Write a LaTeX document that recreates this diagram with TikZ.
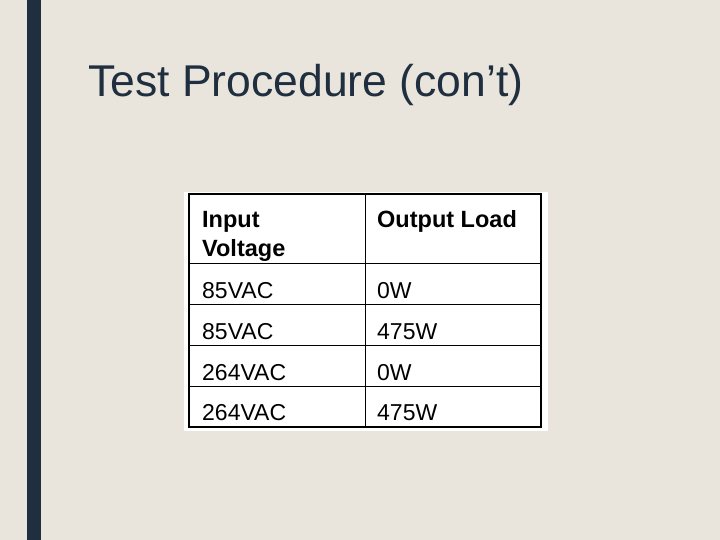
\documentclass[tikz,border=0pt]{standalone}
\usepackage{fontspec}
\setmainfont{Liberation Sans}
\definecolor{bg}{HTML}{EAE5DC}
\definecolor{bar}{HTML}{1F2F40}
\begin{document}
\begin{tikzpicture}[x=1pt,y=-1pt,
  cell/.style={anchor=base west,font=\fontsize{23}{25}\selectfont,inner sep=0pt},
  hcell/.style={cell,font=\fontsize{23.5}{25}\selectfont\bfseries}]
\fill[bg] (0,0) rectangle (720,540);
\useasboundingbox (0,0) rectangle (720,540);
\fill[bar] (27,0) rectangle (41,540);
\node[anchor=base west,inner sep=0pt,text=bar,font=\fontsize{44.5}{50}\selectfont] (title) at (88,97) {Test Procedure (con’t)};
\fill[white] (184,192) rectangle (548,431);
\draw[line width=1.3pt] (189,194) rectangle (541,427);
\draw[line width=1pt] (365,194) -- (365,427);
\foreach \y in {263,304,345,386} \draw[line width=1pt] (189,\y) -- (541,\y);
\node[hcell] (h1) at (202,228) {Input};
\node[hcell] (h2) at (202,256) {Voltage};
\node[hcell] (h3) at (377,228) {Output Load};
\node[cell] (a1) at (202,298) {85VAC};
\node[cell] (b1) at (377,298) {0W};
\node[cell] (a2) at (202,339) {85VAC};
\node[cell] (b2) at (377,339) {475W};
\node[cell] (a3) at (202,380) {264VAC};
\node[cell] (b3) at (377,380) {0W};
\node[cell] (a4) at (202,420) {264VAC};
\node[cell] (b4) at (377,420) {475W};
\end{tikzpicture}
\end{document}
